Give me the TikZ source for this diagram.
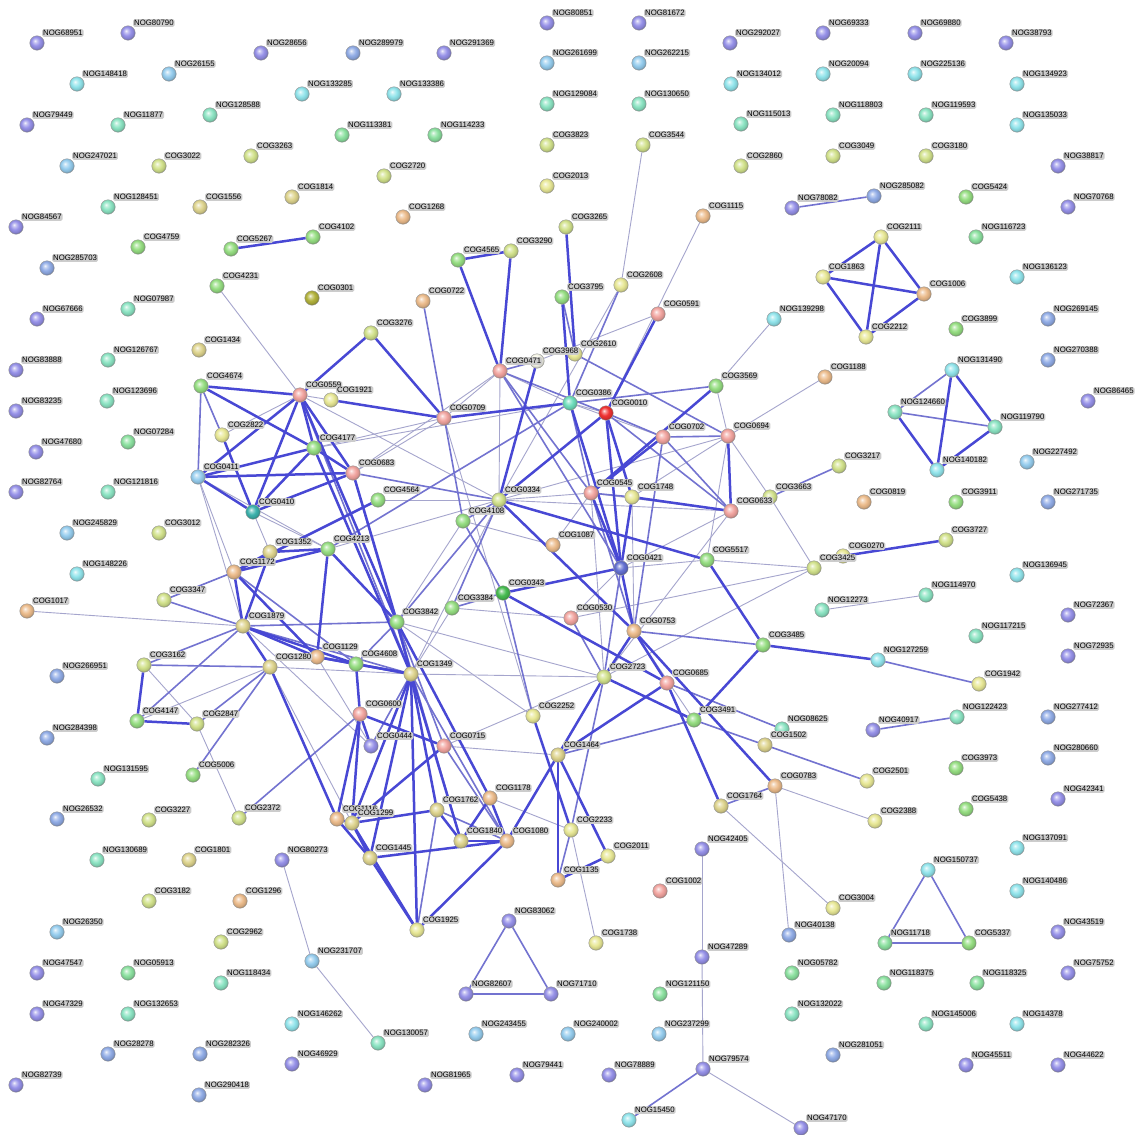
\documentclass[tikz,border=0pt]{standalone}
\usepackage{fontspec}
\newfontfamily\lf{Liberation Sans}
\pgfdeclarelayer{edges}
\pgfdeclarelayer{bgl}
\pgfsetlayers{bgl,edges,main}
\definecolor{pu}{RGB}{150,145,232}
\definecolor{bl}{RGB}{145,172,230}
\definecolor{lb}{RGB}{150,205,238}
\definecolor{cy}{RGB}{145,228,235}
\definecolor{tg}{RGB}{140,228,195}
\definecolor{gt}{RGB}{140,225,160}
\definecolor{gr}{RGB}{150,222,130}
\definecolor{yg}{RGB}{210,226,140}
\definecolor{ye}{RGB}{232,232,150}
\definecolor{kh}{RGB}{222,212,142}
\definecolor{tn}{RGB}{236,188,140}
\definecolor{sa}{RGB}{242,165,160}
\definecolor{rd}{RGB}{240,50,50}
\definecolor{dt}{RGB}{60,178,172}
\definecolor{dg}{RGB}{70,188,80}
\definecolor{db}{RGB}{100,112,210}
\definecolor{ol}{RGB}{178,178,60}
\definecolor{wh}{RGB}{250,250,236}
\definecolor{tl}{RGB}{110,222,188}
\definecolor{ethin}{RGB}{165,165,205}
\definecolor{emed}{RGB}{115,115,208}
\definecolor{ethick}{RGB}{72,72,212}
\colorlet{ballc}{pu}
\pgfdeclareradialshading[ballc]{pball}{\pgfqpoint{-7bp}{8bp}}{color(0bp)=(ballc!10!white); color(6bp)=(ballc!55!white); color(15bp)=(ballc); color(23bp)=(ballc!88!black); color(27bp)=(ballc!70!black); color(50bp)=(ballc!60!black)}
\newcommand\lblfont{\lf\fontsize{7.8}{8}\selectfont}
\tikzset{
  ballnode/.style={circle,minimum size=14.5pt,inner sep=0pt,draw=black!40,line width=0.4pt,shading=pball},
  lbl/.style={anchor=west,fill=black!20,rounded corners=1.5pt,inner sep=1pt,font=\lblfont,text=black},
  eone/.style={draw=ethin,line width=0.9pt},
  etwo/.style={draw=emed,line width=1.6pt},
  ethree/.style={draw=ethick,line width=2.5pt}
}
\newcommand{\ndball}[4]{\colorlet{ballc}{#4}\node[ballnode] (#1) at (#2,#3) {};}
\newcommand{\ndlabel}[4]{\node[lbl] (#1-l) at (#2+5,#3-10) {#1};}
\newcommand{\nodelist}{%
\nd{NOG68951}{37}{43}{pu}
\nd{NOG80790}{128}{33}{pu}
\nd{NOG28656}{261}{53}{pu}
\nd{NOG289979}{353}{53}{bl}
\nd{NOG291369}{444}{53}{pu}
\nd{NOG148418}{77}{84}{cy}
\nd{NOG26155}{169}{74}{lb}
\nd{NOG133285}{302}{94}{cy}
\nd{NOG133386}{394}{94}{cy}
\nd{NOG79449}{27}{125}{pu}
\nd{NOG11877}{118}{125}{tg}
\nd{NOG128588}{210}{115}{tg}
\nd{NOG113381}{342}{135}{gt}
\nd{NOG114233}{435}{135}{gt}
\nd{NOG247021}{67}{166}{lb}
\nd{COG3022}{159}{166}{yg}
\nd{COG3263}{251}{156}{yg}
\nd{COG2720}{384}{176}{yg}
\nd{NOG128451}{108}{207}{tg}
\nd{COG1556}{200}{207}{kh}
\nd{COG1814}{292}{197}{kh}
\nd{COG1268}{403}{217}{tn}
\nd{NOG84567}{16}{227}{pu}
\nd{COG4759}{138}{247}{gr}
\nd{COG5267}{231}{249}{gr}
\nd{COG4102}{313}{237}{gr}
\nd{NOG285703}{47}{268}{bl}
\nd{COG4231}{217}{286}{gr}
\nd{NOG67666}{37}{319}{pu}
\nd{NOG07987}{128}{309}{tg}
\nd{COG0301}{312}{298}{ol}
\nd{COG1434}{199}{350}{kh}
\nd{NOG83888}{16}{370}{pu}
\nd{NOG126767}{108}{360}{tg}
\nd{NOG83235}{16}{411}{pu}
\nd{NOG123696}{107}{401}{tg}
\nd{NOG47680}{36}{452}{pu}
\nd{NOG07284}{128}{442}{gt}
\nd{NOG82764}{16}{492}{pu}
\nd{NOG121816}{108}{492}{tg}
\nd{NOG245829}{67}{533}{lb}
\nd{COG3012}{159}{533}{yg}
\nd{NOG148226}{77}{574}{cy}
\nd{COG1017}{27}{611}{tn}
\nd{COG3347}{164}{600}{yg}
\nd{NOG266951}{57}{676}{bl}
\nd{NOG284398}{47}{738}{bl}
\nd{NOG131595}{98}{779}{tg}
\nd{NOG26532}{57}{819}{bl}
\nd{COG3227}{149}{820}{yg}
\nd{NOG130689}{97}{860}{tg}
\nd{COG1801}{189}{860}{kh}
\nd{NOG80273}{282}{860}{pu}
\nd{COG3182}{149}{901}{yg}
\nd{COG1296}{240}{901}{tn}
\nd{NOG26350}{57}{932}{lb}
\nd{COG2962}{221}{942}{yg}
\nd{NOG231707}{312}{961}{lb}
\nd{NOG47547}{37}{973}{pu}
\nd{NOG05913}{128}{973}{gt}
\nd{NOG118434}{221}{983}{tg}
\nd{NOG47329}{37}{1014}{pu}
\nd{NOG132653}{128}{1014}{tg}
\nd{NOG146262}{292}{1024}{cy}
\nd{NOG130057}{378}{1043}{tg}
\nd{NOG28278}{108}{1054}{bl}
\nd{NOG282326}{200}{1054}{bl}
\nd{NOG46929}{292}{1064}{pu}
\nd{NOG82739}{16}{1085}{pu}
\nd{NOG290418}{199}{1095}{bl}
\nd{NOG80851}{547}{23}{pu}
\nd{NOG81672}{639}{23}{pu}
\nd{NOG261699}{547}{63}{lb}
\nd{NOG262215}{639}{63}{lb}
\nd{NOG129084}{547}{104}{tg}
\nd{NOG130650}{639}{104}{tg}
\nd{COG3823}{547}{145}{yg}
\nd{COG3544}{643}{145}{yg}
\nd{COG2013}{547}{186}{ye}
\nd{COG1115}{703}{216}{tn}
\nd{COG3265}{566}{227}{yg}
\nd{COG3290}{511}{251}{yg}
\nd{COG4565}{458}{260}{gr}
\nd{COG2608}{621}{285}{ye}
\nd{NOG292027}{730}{43}{pu}
\nd{NOG134012}{731}{84}{cy}
\nd{NOG115013}{741}{124}{tg}
\nd{COG2860}{741}{166}{yg}
\nd{NOG69333}{823}{33}{pu}
\nd{NOG69880}{915}{33}{pu}
\nd{NOG38793}{1006}{43}{pu}
\nd{NOG20094}{823}{74}{cy}
\nd{NOG225136}{915}{74}{cy}
\nd{NOG134923}{1017}{84}{cy}
\nd{NOG118803}{833}{115}{tg}
\nd{NOG119593}{926}{115}{tg}
\nd{NOG135033}{1017}{125}{cy}
\nd{COG3049}{833}{156}{yg}
\nd{COG3180}{926}{156}{yg}
\nd{NOG38817}{1058}{166}{pu}
\nd{NOG285082}{874}{196}{bl}
\nd{NOG78082}{792}{208}{pu}
\nd{COG5424}{966}{197}{gr}
\nd{NOG70768}{1068}{207}{pu}
\nd{COG2111}{881}{237}{ye}
\nd{NOG116723}{976}{237}{gt}
\nd{COG1863}{823}{277}{ye}
\nd{NOG136123}{1017}{277}{cy}
\nd{COG1006}{924}{294}{tn}
\nd{NOG139298}{774}{319}{cy}
\nd{COG2212}{866}{337}{ye}
\nd{COG3899}{956}{329}{gr}
\nd{NOG269145}{1048}{319}{bl}
\nd{NOG270388}{1048}{360}{bl}
\nd{COG1188}{825}{377}{tn}
\nd{NOG131490}{952}{370}{cy}
\nd{NOG124660}{895}{412}{tg}
\nd{NOG119790}{995}{427}{tg}
\nd{NOG86465}{1088}{401}{pu}
\nd{NOG140182}{937}{470}{cy}
\nd{NOG227492}{1027}{462}{lb}
\nd{COG3217}{839}{466}{yg}
\nd{COG3663}{770}{497}{yg}
\nd{COG0819}{864}{502}{tn}
\nd{COG3911}{956}{502}{gr}
\nd{NOG271735}{1048}{502}{bl}
\nd{COG3727}{946}{540}{yg}
\nd{COG0270}{843}{556}{ye}
\nd{COG3425}{814}{568}{yg}
\nd{NOG136945}{1017}{575}{cy}
\nd{NOG114970}{926}{595}{tg}
\nd{NOG12273}{822}{610}{tg}
\nd{NOG72367}{1068}{615}{pu}
\nd{NOG117215}{976}{636}{tg}
\nd{COG3485}{763}{645}{gr}
\nd{NOG127259}{878}{660}{cy}
\nd{NOG72935}{1068}{656}{pu}
\nd{COG1942}{979}{684}{ye}
\nd{NOG122423}{957}{717}{tg}
\nd{NOG277412}{1048}{717}{bl}
\nd{NOG08625}{782}{729}{tg}
\nd{NOG40917}{873}{730}{pu}
\nd{COG1502}{765}{745}{kh}
\nd{NOG280660}{1048}{758}{bl}
\nd{COG3973}{956}{768}{gr}
\nd{COG2501}{867}{781}{ye}
\nd{COG0783}{775}{786}{tn}
\nd{NOG42341}{1058}{799}{pu}
\nd{COG5438}{966}{809}{gr}
\nd{COG2388}{875}{821}{ye}
\nd{NOG137091}{1017}{848}{cy}
\nd{NOG150737}{928}{870}{cy}
\nd{NOG140486}{1017}{891}{cy}
\nd{COG3004}{833}{908}{ye}
\nd{NOG40138}{789}{935}{bl}
\nd{NOG43519}{1058}{932}{pu}
\nd{NOG11718}{885}{943}{gt}
\nd{COG5337}{969}{943}{gr}
\nd{NOG05782}{792}{973}{gt}
\nd{NOG118375}{884}{983}{gt}
\nd{NOG118325}{977}{983}{gt}
\nd{NOG75752}{1068}{973}{pu}
\nd{NOG132022}{792}{1014}{tg}
\nd{NOG145006}{926}{1024}{tg}
\nd{NOG14378}{1017}{1024}{cy}
\nd{NOG281051}{833}{1055}{bl}
\nd{NOG45511}{966}{1065}{pu}
\nd{NOG44622}{1058}{1065}{pu}
\nd{NOG47170}{801}{1128}{pu}
\nd{COG1002}{660}{891}{sa}
\nd{NOG42405}{702}{849}{pu}
\nd{NOG83062}{509}{921}{pu}
\nd{COG1738}{596}{943}{ye}
\nd{NOG47289}{702}{957}{pu}
\nd{NOG82607}{466}{994}{pu}
\nd{NOG71710}{551}{994}{pu}
\nd{NOG121150}{660}{994}{gt}
\nd{NOG243455}{476}{1034}{lb}
\nd{NOG240002}{568}{1034}{lb}
\nd{NOG237299}{659}{1034}{lb}
\nd{NOG79574}{703}{1069}{pu}
\nd{NOG81965}{425}{1085}{pu}
\nd{NOG79441}{517}{1075}{pu}
\nd{NOG78889}{609}{1075}{pu}
\nd{NOG15450}{629}{1120}{cy}
\nd{COG4674}{201}{386}{gr}
\nd{COG0559}{300}{395}{sa}
\nd{COG1921}{331}{400}{ye}
\nd{COG2822}{222}{435}{ye}
\nd{COG4177}{314}{448}{gr}
\nd{COG0411}{198}{477}{lb}
\nd{COG0683}{353}{473}{sa}
\nd{COG0410}{253}{512}{dt}
\nd{COG4564}{378}{500}{gr}
\nd{COG1352}{270}{552}{kh}
\nd{COG4213}{328}{549}{gr}
\nd{COG1172}{234}{572}{tn}
\nd{COG3276}{371}{333}{yg}
\nd{COG0722}{423}{301}{tn}
\nd{COG3795}{562}{297}{gr}
\nd{COG0591}{658}{314}{sa}
\nd{COG3968}{537}{361}{wh}
\nd{COG2610}{575}{354}{ye}
\nd{COG0471}{500}{371}{sa}
\nd{COG0386}{570}{403}{tl}
\nd{COG0010}{606}{413}{rd}
\nd{COG0709}{444}{418}{sa}
\nd{COG3569}{716}{386}{gr}
\nd{COG0702}{663}{437}{sa}
\nd{COG0694}{728}{436}{sa}
\nd{COG0545}{591}{493}{sa}
\nd{COG1748}{632}{497}{ye}
\nd{COG0633}{731}{511}{sa}
\nd{COG0334}{499}{500}{yg}
\nd{COG4108}{463}{521}{gr}
\nd{COG1087}{553}{545}{tn}
\nd{COG5517}{707}{560}{gr}
\nd{COG0421}{621}{568}{db}
\nd{COG1879}{243}{626}{kh}
\nd{COG1129}{317}{657}{tn}
\nd{COG4608}{356}{664}{gr}
\nd{COG3162}{144}{665}{yg}
\nd{COG1280}{270}{667}{kh}
\nd{COG0600}{360}{714}{sa}
\nd{COG4147}{137}{721}{gr}
\nd{COG2847}{197}{724}{yg}
\nd{COG0444}{371}{746}{pu}
\nd{COG5006}{193}{775}{gr}
\nd{COG2372}{239}{818}{yg}
\nd{COG1116}{337}{819}{tn}
\nd{COG1299}{352}{823}{kh}
\nd{COG0343}{503}{593}{dg}
\nd{COG3384}{452}{608}{gr}
\nd{COG3842}{397}{622}{gr}
\nd{COG0530}{571}{618}{sa}
\nd{COG0753}{634}{631}{tn}
\nd{COG1349}{411}{674}{kh}
\nd{COG2723}{604}{677}{yg}
\nd{COG0685}{667}{683}{sa}
\nd{COG2252}{533}{716}{ye}
\nd{COG3491}{694}{720}{gr}
\nd{COG0715}{444}{746}{sa}
\nd{COG1464}{558}{755}{kh}
\nd{COG1178}{490}{798}{tn}
\nd{COG1762}{437}{810}{kh}
\nd{COG1764}{721}{806}{kh}
\nd{COG2233}{571}{830}{ye}
\nd{COG1840}{461}{841}{kh}
\nd{COG1080}{507}{841}{tn}
\nd{COG2011}{608}{856}{ye}
\nd{COG1445}{370}{858}{kh}
\nd{COG1925}{417}{930}{ye}
\nd{COG1135}{558}{880}{tn}
}
\begin{document}
\begin{tikzpicture}[x=1pt,y=-1pt]
\useasboundingbox (0,0) rectangle (1141,1135);
\begin{pgfonlayer}{bgl}
\fill[white] (0,0) rectangle (1141,1135);
\end{pgfonlayer}
\let\nd\ndball
\nodelist
\let\nd\ndlabel
\nodelist
\begin{pgfonlayer}{edges}
\foreach \a/\b in {NOG12273/NOG114970,NOG80273/NOG231707,NOG231707/NOG130057,NOG42405/NOG47289,NOG47289/NOG79574,NOG79574/NOG47170,COG2233/COG1738,COG1764/COG3004,COG0783/NOG40138,COG0783/COG2388,COG4231/COG0559,COG1017/COG1879,COG3544/COG2608,COG2608/COG0334,COG1115/COG0010,COG0591/COG3968,COG0471/COG0386,COG0471/COG0334,COG0471/COG0683,COG0386/COG0010,COG0386/COG0702,COG0694/COG0334,COG0694/COG1748,COG3569/COG0694,COG0694/COG5517,COG0694/COG3663,COG1188/COG0694,NOG139298/COG3569,COG3663/COG3425,COG2723/COG3425,COG0530/COG3425,COG0545/COG0334,COG0545/COG0633,COG0334/COG0633,COG0334/COG1349,COG0709/COG0559,COG0709/COG4177,COG0709/COG2252,COG0334/COG4213,COG4564/COG0334,COG5517/COG0421,COG1087/COG0545,COG1087/COG4108,COG0709/COG0471,COG0411/COG1172,COG0411/COG1879,COG0410/COG1352,COG0410/COG4213,COG0559/COG0334,COG2723/COG1349,COG2723/COG3842,COG0715/COG1464,COG0715/COG2723,COG1178/COG2233,COG2252/COG3842,COG3491/COG0753,COG0633/COG2723,COG0753/COG1748,COG0421/COG0530,COG3162/COG2847,COG2847/COG2372,COG4147/COG1280,COG1879/COG0444,COG1280/COG1349,COG3384/COG0530,COG3384/COG1349,COG0683/COG0709,COG2822/COG0559,COG4177/COG0386,COG0411/COG4213,COG1129/COG0444,COG1280/COG1299,COG4108/COG3842,COG0545/COG2723,COG0633/COG0421,COG5517/COG3425}
  \draw[eone] (\a) -- (\b);
\foreach \a/\b in {NOG78082/NOG285082,NOG131490/NOG124660,NOG124660/NOG119790,COG3217/COG3663,NOG127259/COG1942,NOG40917/NOG122423,COG1502/COG2501,COG0685/NOG08625,COG1764/COG0783,NOG79574/NOG15450,NOG83062/NOG82607,NOG83062/NOG71710,NOG82607/NOG71710,NOG150737/NOG11718,NOG150737/COG5337,NOG11718/COG5337,COG4674/COG0411,COG4674/COG2822,COG0471/COG3968,COG0471/COG0010,COG0471/COG0545,COG0471/COG0421,COG2610/COG0694,COG0386/COG3569,COG3795/COG2610,COG0010/COG0702,COG0010/COG0633,COG0702/COG0694,COG0702/COG0633,COG0702/COG0753,COG0545/COG1748,COG0334/COG4108,COG0334/COG3842,COG0334/COG3384,COG4108/COG0343,COG0683/COG0334,COG0386/COG4213,COG3491/COG1464,COG2723/COG2233,COG2723/COG0530,COG2723/COG0421,COG0343/COG2252,COG0343/COG3384,COG1135/COG2233,COG0715/COG1080,COG3162/COG1280,COG3162/COG1879,COG3347/COG1879,COG3347/COG1172,COG4147/COG1879,COG5006/COG1280,COG2372/COG0600,COG2847/COG1280,COG0683/COG1349,COG0559/COG1349,COG0722/COG4108,COG3491/COG1502,COG0753/COG3485,COG1762/COG1925,COG1762/COG1080,COG0444/COG1349,COG1879/COG3842,COG1879/COG1349,COG1172/COG4608,COG4608/COG3842,COG0715/COG3842,COG3842/COG1840,COG1349/COG1080,COG2608/COG0386,COG0386/COG0545,COG0545/COG0753}
  \draw[etwo] (\a) -- (\b);
\foreach \a/\b in {COG5267/COG4102,COG2111/COG1863,COG2111/COG2212,COG2111/COG1006,COG1863/COG1006,COG1863/COG2212,COG1006/COG2212,NOG131490/NOG119790,NOG131490/NOG140182,NOG124660/NOG140182,NOG119790/NOG140182,COG3727/COG0270,COG4674/COG0559,COG4674/COG4177,COG0559/COG0411,COG0559/COG0410,COG0559/COG4177,COG0559/COG0683,COG0559/COG3276,COG0559/COG3842,COG0411/COG4177,COG0411/COG0683,COG0411/COG0410,COG0410/COG0683,COG0410/COG4177,COG4177/COG0683,COG2822/COG0410,COG0683/COG3842,COG4177/COG1349,COG1921/COG0709,COG3276/COG0709,COG0709/COG0386,COG4565/COG3290,COG4565/COG0471,COG3290/COG0471,COG3265/COG2610,COG3795/COG0386,COG0591/COG0010,COG3968/COG0334,COG0010/COG0334,COG0010/COG0421,COG0010/COG1748,COG0386/COG0421,COG3569/COG0545,COG0702/COG0545,COG0694/COG0633,COG1748/COG0633,COG0545/COG0421,COG1748/COG0421,COG0334/COG5517,COG0334/COG0753,COG5517/COG3485,COG3485/COG3491,COG3485/NOG127259,COG0343/COG0685,COG0343/COG0421,COG0685/COG1464,COG0685/COG1764,COG0685/COG0753,COG2723/COG0753,COG2723/COG1464,COG2723/COG3491,COG1464/COG1135,COG1464/COG2011,COG1464/COG1080,COG2252/COG2233,COG1135/COG2011,COG0753/COG0783,COG0421/COG0753,COG3842/COG1349,COG3842/COG1178,COG3842/COG4213,COG1349/COG1925,COG1349/COG1299,COG1349/COG1445,COG1349/COG1840,COG1349/COG1762,COG1349/COG4608,COG0600/COG0715,COG0600/COG4608,COG0600/COG1299,COG0600/COG0444,COG0600/COG1116,COG0715/COG1299,COG1178/COG1840,COG1080/COG1840,COG1080/COG1445,COG1080/COG1925,COG1080/COG1178,COG1762/COG1299,COG1762/COG1840,COG1445/COG1925,COG1445/COG1299,COG1925/COG1299,COG1116/COG1299,COG1280/COG1116,COG1445/COG1116,COG4608/COG1129,COG4608/COG1879,COG1129/COG1879,COG1129/COG1172,COG1129/COG4213,COG1879/COG1280,COG1879/COG1172,COG1879/COG1352,COG1172/COG1352,COG1172/COG4213,COG1172/COG4564,COG1352/COG4213,COG3162/COG4147,COG4147/COG2847,COG1129/COG1349}
  \draw[ethree] (\a) -- (\b);
\end{pgfonlayer}
\end{tikzpicture}
\end{document}
